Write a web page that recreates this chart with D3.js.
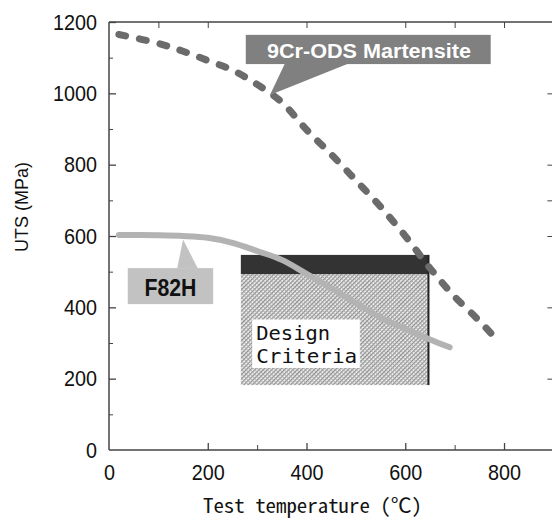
<!DOCTYPE html>
<html><head><meta charset="utf-8">
<script src="https://cdn.jsdelivr.net/npm/d3@7"></script>
<style>body{margin:0;background:#fff}</style>
</head><body>
<svg id="c" width="552" height="520"></svg>
<script>
// Data
const odsTemp = [20,100,150,200,250,300,350,400,450,500,550,600,650,700,750,790];
const odsUTS  = [1165,1140,1118,1092,1065,1025,975,898,829,756,682,600,510,430,362,302];
const f82Temp = [20,100,150,200,250,300,350,400,450,500,550,600,650,690];
const f82UTS  = [603,602,600,595,581,558,533,494,454,412,371,340,310,288];
const xTicks = [0,200,400,600,800];
const yTicks = [0,200,400,600,800,1000,1200];
const xMinorBottom = [300,700];
const xMinorTop = [100,700];
const yMinorLeft = [100,300,500,700,900,1100];
const yMinorRight = [700];
const designCriteria = {t0:267, t1:647, lo:182, hi:493, top:547};
const odsLabel = "9Cr-ODS Martensite";
const f82Label = "F82H";

const W=552,H=520;
const x = d3.scaleLinear().domain([0,900]).range([109,553.4]);
const y = d3.scaleLinear().domain([0,1200]).range([450,22]);
const svg = d3.select("#c");

// pattern for design criteria
const defs = svg.append("defs");
const pat = defs.append("pattern").attr("id","hatch").attr("patternUnits","userSpaceOnUse")
  .attr("width",3).attr("height",3).attr("patternTransform","rotate(45)");
pat.append("rect").attr("width",3).attr("height",3).attr("fill","#f2f2f2");
pat.append("rect").attr("width",1.2).attr("height",3).attr("fill","#8a8a8a");
pat.append("rect").attr("width",3).attr("height",0.8).attr("fill","#a8a8a8");

// Design criteria box
const dc = designCriteria;
svg.append("rect").attr("x",x(dc.t0)).attr("y",y(dc.hi)).attr("width",x(dc.t1)-x(dc.t0))
  .attr("height",y(dc.lo)-y(dc.hi)).attr("fill","url(#hatch)");
svg.append("rect").attr("x",x(dc.t0)).attr("y",y(dc.top)).attr("width",x(dc.t1)-x(dc.t0))
  .attr("height",y(dc.hi)-y(dc.top)).attr("fill","#333");
svg.append("line").attr("x1",x(dc.t1)).attr("x2",x(dc.t1)).attr("y1",y(dc.top)).attr("y2",y(dc.lo))
  .attr("stroke","#222").attr("stroke-width",2);
svg.append("rect").attr("x",x(290)).attr("y",y(366)).attr("width",x(508)-x(290))
  .attr("height",y(230)-y(366)).attr("fill","#fff");
const mono = "'DejaVu Sans Mono',monospace";
svg.append("text").attr("x",x(298)).attr("y",y(309)).attr("font-family",mono).attr("font-size",19)
  .attr("textLength",74).attr("lengthAdjust","spacingAndGlyphs")
  .attr("fill","#111").text("Design");
svg.append("text").attr("x",x(298)).attr("y",y(245)).attr("font-family",mono).attr("font-size",19)
  .attr("textLength",101).attr("lengthAdjust","spacingAndGlyphs")
  .attr("fill","#111").text("Criteria");

// Curves
const line = d3.line().curve(d3.curveCatmullRom.alpha(0.5)).x(d=>x(d[0])).y(d=>y(d[1]));
svg.append("path").attr("d",line(f82Temp.map((t,i)=>[t,f82UTS[i]])))
  .attr("fill","none").attr("stroke","#b3b3b3").attr("stroke-width",6).attr("stroke-linecap","round");
svg.append("path").attr("d",line(odsTemp.map((t,i)=>[t,odsUTS[i]])))
  .attr("fill","none").attr("stroke","#6b6b6b").attr("stroke-width",7)
  .attr("stroke-dasharray","7,14").attr("stroke-linecap","round");

// ODS callout
svg.append("rect").attr("x",x(277)).attr("y",y(1164)).attr("width",x(773)-x(277))
  .attr("height",y(1082)-y(1164)).attr("fill","#808080");
svg.append("polygon").attr("points",[[x(356),y(1083)],[x(484),y(1083)],[x(326),y(995)]].map(p=>p.join(",")).join(" "))
  .attr("fill","#808080");
svg.append("text").attr("x",x(320)).attr("y",y(1099)).attr("textLength",204).attr("lengthAdjust","spacingAndGlyphs")
  .attr("font-family","'Liberation Sans',Arial,sans-serif").attr("font-weight","bold").attr("font-size",20)
  .attr("fill","#fff").text(odsLabel);

// F82H callout
svg.append("rect").attr("x",x(38)).attr("y",y(510)).attr("width",x(211)-x(38))
  .attr("height",y(409)-y(510)).attr("fill","#c2c2c2");
svg.append("polygon").attr("points",[[x(138),y(509)],[x(180),y(509)],[x(150),y(590)]].map(p=>p.join(",")).join(" "))
  .attr("fill","#c2c2c2");
svg.append("text").attr("x",(x(38)+x(211))/2-26).attr("y",y(432)).attr("textLength",52).attr("lengthAdjust","spacingAndGlyphs")
  .attr("font-family","'Liberation Sans',Arial,sans-serif").attr("font-weight","bold").attr("font-size",23)
  .attr("fill","#111").text(f82Label);

// Frame
const ax = "#444";
svg.append("line").attr("x1",x(0)).attr("x2",x(0)).attr("y1",y(0)).attr("y2",y(1200)).attr("stroke",ax).attr("stroke-width",1.5);
svg.append("line").attr("x1",x(0)).attr("x2",W).attr("y1",y(0)).attr("y2",y(0)).attr("stroke",ax).attr("stroke-width",1.5);
svg.append("line").attr("x1",x(0)).attr("x2",W).attr("y1",y(1200)).attr("y2",y(1200)).attr("stroke",ax).attr("stroke-width",1.5);

// Axes via d3
const sans = "'Liberation Sans',Arial,sans-serif";
const gx = svg.append("g").attr("transform",`translate(0,${y(0)})`)
  .call(d3.axisBottom(x).tickValues(xTicks).tickSize(-7).tickPadding(14).tickFormat(d3.format("d")));
const gy = svg.append("g").attr("transform",`translate(${x(0)},0)`)
  .call(d3.axisLeft(y).tickValues(yTicks).tickSize(-7).tickPadding(12).tickFormat(d3.format("d")));
[gx,gy].forEach(g=>{
  g.select(".domain").remove();
  g.selectAll(".tick line").attr("stroke",ax).attr("stroke-width",1.3);
  g.selectAll("text").attr("font-family",sans).attr("font-size",22).attr("fill","#111")
    .attr("textLength",d=>String(d).length*11).attr("lengthAdjust","spacingAndGlyphs");
});
gx.select(".tick line").remove();
gy.select(".tick line").remove();
svg.append("g").attr("transform",`translate(0,${y(0)})`)
  .call(d3.axisBottom(x).tickValues(xMinorBottom).tickSize(-5).tickFormat(""))
  .call(g=>{g.select(".domain").remove();g.selectAll("line").attr("stroke",ax);});
svg.append("g").attr("transform",`translate(0,${y(1200)})`)
  .call(d3.axisTop(x).tickValues(xTicks.slice(1).concat(xMinorTop)).tickSize(-6).tickFormat(""))
  .call(g=>{g.select(".domain").remove();g.selectAll("line").attr("stroke",ax);});
svg.append("g").attr("transform",`translate(${x(0)},0)`)
  .call(d3.axisLeft(y).tickValues(yMinorLeft).tickSize(-4).tickFormat(""))
  .call(g=>{g.select(".domain").remove();g.selectAll("line").attr("stroke",ax);});
svg.append("g").attr("transform",`translate(${x(900)},0)`)
  .call(d3.axisRight(y).tickValues([200,400,600,800,1000].concat(yMinorRight)).tickSize(-6).tickFormat(""))
  .call(g=>{g.select(".domain").remove();g.selectAll("line").attr("stroke",ax);});

// Titles
const jmono = "'Noto Sans Mono CJK JP','Noto Sans CJK JP','DejaVu Sans Mono',monospace";
svg.append("text").attr("x",203).attr("y",513).attr("textLength",219).attr("lengthAdjust","spacingAndGlyphs")
  .attr("font-family",jmono).attr("font-size",20).attr("fill","#111").text("Test temperature (℃)");
svg.append("text").attr("transform","translate(28,207) rotate(-90)").attr("text-anchor","middle")
  .attr("font-family",sans).attr("font-size",18).attr("fill","#111").text("UTS (MPa)");
</script>
</body></html>
